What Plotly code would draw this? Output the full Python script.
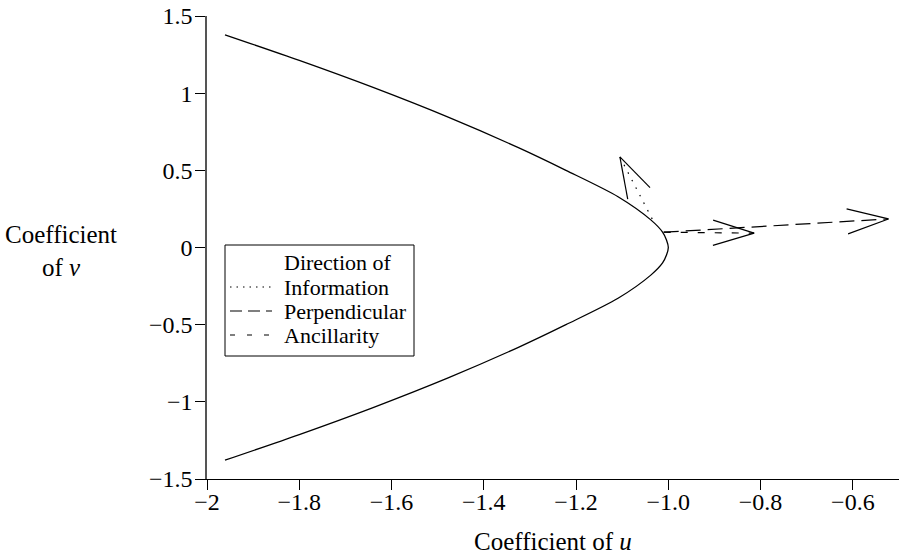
import math
import plotly.graph_objects as go

# ---------------- data ----------------
curve_u = [-1.961, -1.800, -1.640, -1.476, -1.325, -1.222, -1.109, -1.038, -1.0125, -1.004, -1.000,
           -1.004, -1.0125, -1.038, -1.109, -1.222, -1.325, -1.476, -1.640, -1.800, -1.961]
curve_v = [1.378, 1.212, 1.037, 0.843, 0.647, 0.500, 0.329, 0.179, 0.100, 0.049, 0.000,
           -0.049, -0.100, -0.179, -0.329, -0.500, -0.647, -0.843, -1.037, -1.212, -1.378]

arrow_names = ["Information", "Perpendicular", "Ancillarity"]
arrow_start_u = [-1.035, -1.010, -1.010]
arrow_start_v = [0.185, 0.099, 0.099]
arrow_tip_u = [-1.105, -0.523, -0.814]
arrow_tip_v = [0.587, 0.185, 0.093]

x_tickvals = [-2.0, -1.8, -1.6, -1.4, -1.2, -1.0, -0.8, -0.6]
x_ticktext = ["\u22122", "\u22121.8", "\u22121.6", "\u22121.4", "\u22121.2", "\u22121.0", "\u22120.8", "\u22120.6"]
y_tickvals = [-1.5, -1.0, -0.5, 0.0, 0.5, 1.0, 1.5]
y_ticktext = ["\u22121.5", "\u22121", "\u22120.5", "0", "0.5", "1", "1.5"]

legend_title = "Direction of"
# ----------------------------------------------------------------

W, H = 899, 556
ML, MR, MT, MB = 207, 0, 16, 77
XR = [-2.0, -0.5]
YR = [-1.5, 1.5]
PW, PH = W - ML - MR, H - MT - MB
SX = PW / (XR[1] - XR[0])
SY = PH / (YR[1] - YR[0])

FONT = "Liberation Serif, Times New Roman, serif"
dashes = {"Information": "1.5px,7px", "Perpendicular": "15px,7px", "Ancillarity": "7px,10px"}
legend_dashes = {"Information": "1.5px,5px", "Perpendicular": "12px,6px", "Ancillarity": "5px,12px"}

fig = go.Figure()

fig.add_trace(go.Scatter(x=curve_u, y=curve_v, mode="lines",
                         line=dict(color="black", width=1.3, shape="spline", smoothing=0.8),
                         showlegend=False, hoverinfo="skip"))

HEAD_LEN = 43.0
HEAD_ANG = math.radians(17)
for name, su, sv, tu, tv in zip(arrow_names, arrow_start_u, arrow_start_v, arrow_tip_u, arrow_tip_v):
    fig.add_trace(go.Scatter(x=[su, tu], y=[sv, tv], mode="lines",
                             line=dict(color="black", width=1.2, dash=dashes[name]),
                             name=name, showlegend=False, hoverinfo="skip"))
    dxp = (tu - su) * SX
    dyp = (tv - sv) * SY
    back = math.atan2(dyp, dxp) + math.pi
    bx, by = [], []
    for sgn in (1, -1):
        a = back + sgn * HEAD_ANG
        bx += [tu + HEAD_LEN * math.cos(a) / SX, tu, None]
        by += [tv + HEAD_LEN * math.sin(a) / SY, tv, None]
    fig.add_trace(go.Scatter(x=bx, y=by, mode="lines",
                             line=dict(color="black", width=1.2),
                             showlegend=False, hoverinfo="skip"))


def pxx(p):
    return (p - ML) / PW


def pxy(p):
    return (H - MB - p) / PH


shapes = []
annotations = []
# legend box
shapes.append(dict(type="rect", xref="paper", yref="paper",
                   x0=pxx(225), x1=pxx(414), y0=pxy(356), y1=pxy(245),
                   line=dict(color="black", width=1), fillcolor="white", layer="above"))
row_y = [262, 287, 311, 335]
LEG_FS = 22
annotations.append(dict(xref="paper", yref="paper", x=pxx(282), y=pxy(row_y[0]),
                        xanchor="left", yanchor="middle", showarrow=False,
                        text=legend_title, font=dict(family=FONT, size=LEG_FS, color="black")))
for i, name in enumerate(arrow_names):
    yy = pxy(row_y[i + 1])
    shapes.append(dict(type="line", xref="paper", yref="paper", x0=pxx(230), x1=pxx(272),
                       y0=yy, y1=yy, line=dict(color="black", width=1.2, dash=legend_dashes[name]),
                       layer="above"))
    annotations.append(dict(xref="paper", yref="paper", x=pxx(282), y=yy,
                            xanchor="left", yanchor="middle", showarrow=False,
                            text=name, font=dict(family=FONT, size=LEG_FS, color="black")))

# axis titles
annotations.append(dict(xref="paper", yref="paper", x=pxx(553), y=pxy(541),
                        xanchor="center", yanchor="middle", showarrow=False,
                        text="Coefficient of <i>u</i>", font=dict(family=FONT, size=25, color="black")))
annotations.append(dict(xref="paper", yref="paper", x=pxx(61), y=pxy(251),
                        xanchor="center", yanchor="middle", showarrow=False, align="center",
                        text="Coefficient<br>of <i>v</i>", font=dict(family=FONT, size=25, color="black")))

fig.update_layout(
    width=W, height=H,
    margin=dict(l=ML, r=MR, t=MT, b=MB, pad=0),
    paper_bgcolor="white", plot_bgcolor="white",
    showlegend=False,
    shapes=shapes, annotations=annotations,
    font=dict(family=FONT, size=23, color="black"),
)
fig.update_xaxes(range=XR, tickvals=x_tickvals, ticktext=x_ticktext,
                 showgrid=False, zeroline=False, showline=True, linecolor="black", linewidth=1,
                 ticks="outside", ticklen=10, tickcolor="black", tickwidth=1,
                 ticklabelstandoff=-9,
                 tickfont=dict(family=FONT, size=24, color="black"))
fig.update_yaxes(range=YR, tickvals=y_tickvals, ticktext=y_ticktext,
                 showgrid=False, zeroline=False, showline=True, linecolor="#555555", linewidth=1.5,
                 ticks="outside", ticklen=10, tickcolor="black", tickwidth=1,
                 ticklabelstandoff=-2,
                 tickfont=dict(family=FONT, size=24, color="black"))

fig.write_html("out.html")
